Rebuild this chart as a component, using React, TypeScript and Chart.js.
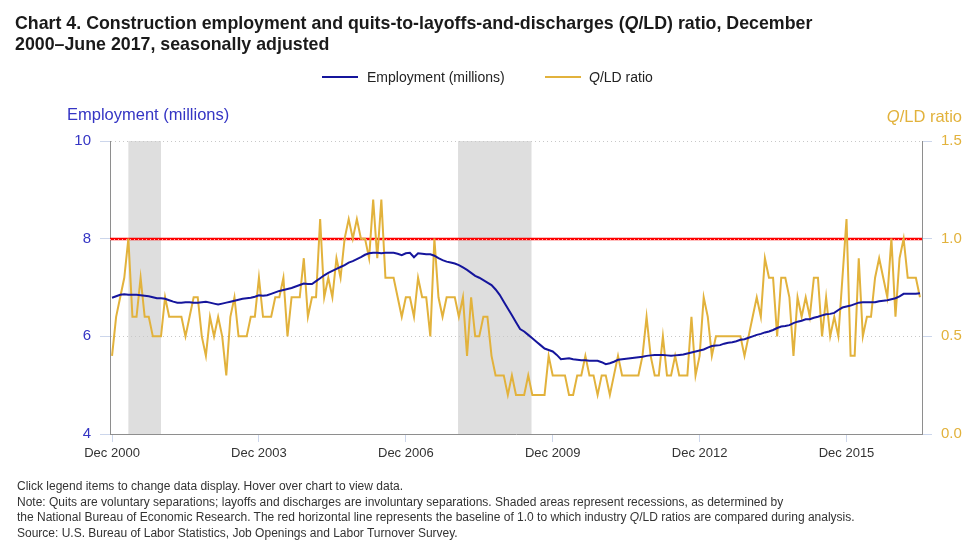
import React, { useEffect, useRef } from 'react';
import { Chart, registerables } from 'chart.js';

Chart.register(...registerables);

const FONT = '"Liberation Sans", Arial, sans-serif';

// Monthly categories, Dec 2000 – Jun 2017
const monthNames = ['Jan', 'Feb', 'Mar', 'Apr', 'May', 'Jun', 'Jul', 'Aug', 'Sep', 'Oct', 'Nov', 'Dec'];
const categories: string[] = [];
for (let i = 0; i < 199; i++) {
  const k = 11 + i;
  categories.push(`${monthNames[k % 12]} ${2000 + Math.floor(k / 12)}`);
}

// Labeled x ticks (category indexes)
const xTickIndex = [0, 36, 72, 108, 144, 180];
const empTicks = [4, 6, 8, 10];
const ratioTicks = [0, 0.5, 1.0, 1.5];

// Construction employment (millions), seasonally adjusted
const employment = [
  6.79, 6.82, 6.85, 6.86, 6.85, 6.85, 6.85, 6.84, 6.83, 6.82, 6.80, 6.78,
  6.78, 6.77, 6.74, 6.71, 6.69, 6.69, 6.70, 6.70, 6.69, 6.69, 6.70, 6.71,
  6.69, 6.67, 6.65, 6.67, 6.69, 6.71, 6.73, 6.75, 6.77, 6.78, 6.79, 6.81,
  6.84, 6.83, 6.84, 6.87, 6.90, 6.93, 6.95, 6.97, 6.99, 7.02, 7.05, 7.08,
  7.07, 7.07, 7.13, 7.19, 7.25, 7.30, 7.34, 7.38, 7.42, 7.46, 7.51, 7.54,
  7.58, 7.62, 7.67, 7.70, 7.71, 7.71, 7.70, 7.71, 7.71, 7.71, 7.69, 7.66,
  7.70, 7.71, 7.62, 7.70, 7.69, 7.68, 7.68, 7.65, 7.60, 7.56, 7.53, 7.51,
  7.49, 7.46, 7.41, 7.36, 7.30, 7.24, 7.20, 7.15, 7.10, 7.05, 6.96, 6.85,
  6.71, 6.57, 6.43, 6.29, 6.15, 6.10, 6.03, 5.96, 5.89, 5.82, 5.75, 5.72,
  5.69, 5.62, 5.53, 5.54, 5.55, 5.53, 5.52, 5.51, 5.51, 5.50, 5.50, 5.50,
  5.47, 5.43, 5.45, 5.48, 5.52, 5.53, 5.54, 5.55, 5.56, 5.57, 5.58, 5.60,
  5.61, 5.62, 5.62, 5.62, 5.61, 5.60, 5.61, 5.62, 5.63, 5.65, 5.67, 5.69,
  5.71, 5.73, 5.77, 5.80, 5.81, 5.82, 5.85, 5.87, 5.88, 5.90, 5.93, 5.94,
  5.97, 6.00, 6.03, 6.05, 6.08, 6.10, 6.13, 6.17, 6.20, 6.21, 6.23, 6.27,
  6.30, 6.32, 6.35, 6.35, 6.38, 6.40, 6.43, 6.45, 6.46, 6.48, 6.54, 6.59,
  6.61, 6.63, 6.66, 6.69, 6.70, 6.70, 6.70, 6.70, 6.72, 6.73, 6.74, 6.76,
  6.78, 6.82, 6.87, 6.87, 6.87, 6.87, 6.88,
];

// Quits-to-layoffs-and-discharges ratio
const qldRatio = [
  0.4, 0.6, 0.7, 0.8, 1.0, 0.6, 0.6, 0.8, 0.6, 0.6, 0.5, 0.5,
  0.5, 0.7, 0.6, 0.6, 0.6, 0.6, 0.5, 0.6, 0.7, 0.7, 0.5, 0.4,
  0.6, 0.5, 0.6, 0.5, 0.3, 0.6, 0.7, 0.5, 0.5, 0.5, 0.6, 0.6,
  0.8, 0.6, 0.6, 0.6, 0.7, 0.7, 0.8, 0.5, 0.7, 0.7, 0.7, 0.9,
  0.6, 0.7, 0.7, 1.1, 0.7, 0.8, 0.7, 0.9, 0.8, 1.0, 1.1, 1.0,
  1.1, 1.0, 1.0, 0.9, 1.2, 0.9, 1.2, 0.8, 0.8, 0.8, 0.7, 0.6,
  0.7, 0.7, 0.6, 0.8, 0.7, 0.7, 0.5, 1.0, 0.7, 0.6, 0.7, 0.7,
  0.7, 0.6, 0.7, 0.4, 0.7, 0.5, 0.5, 0.6, 0.6, 0.4, 0.3, 0.3,
  0.3, 0.2, 0.3, 0.2, 0.2, 0.2, 0.3, 0.2, 0.2, 0.2, 0.2, 0.4,
  0.3, 0.3, 0.3, 0.3, 0.2, 0.2, 0.3, 0.3, 0.4, 0.3, 0.3, 0.2,
  0.3, 0.3, 0.2, 0.3, 0.4, 0.3, 0.3, 0.3, 0.3, 0.3, 0.4, 0.6,
  0.4, 0.3, 0.3, 0.5, 0.3, 0.3, 0.4, 0.3, 0.3, 0.3, 0.6, 0.3,
  0.4, 0.7, 0.6, 0.4, 0.5, 0.5, 0.5, 0.5, 0.5, 0.5, 0.5, 0.4,
  0.5, 0.6, 0.7, 0.6, 0.9, 0.8, 0.8, 0.5, 0.8, 0.8, 0.7, 0.4,
  0.7, 0.6, 0.7, 0.6, 0.8, 0.8, 0.5, 0.7, 0.5, 0.6, 0.5, 0.8,
  1.1, 0.4, 0.4, 0.9, 0.5, 0.6, 0.6, 0.8, 0.9, 0.8, 0.7, 1.0,
  0.6, 0.9, 1.0, 0.8, 0.8, 0.8, 0.7,
];

// Recessions (in month-index units on the x axis)
const recessionStart = [4.0, 84.8];
const recessionEnd = [12.0, 102.8];
const baselineRatio = 1.0;

const EMP_COLOR = '#15159c';
const RATIO_COLOR = '#e2b23c';
const EMP_AXIS_COLOR = '#3535c4';
const AXIS_LINE = '#8e8e8e';
const TICK_COLOR = '#ccd6eb';

const recessionPlugin = {
  id: 'recessions',
  beforeDraw(chart: any) {
    const { ctx, chartArea, scales } = chart;
    const x = scales.x;
    ctx.save();
    ctx.fillStyle = '#dedede';
    recessionStart.forEach((s, i) => {
      const x0 = x.getPixelForValue(s);
      const x1 = x.getPixelForValue(recessionEnd[i]);
      ctx.fillRect(x0, chartArea.top, x1 - x0, chartArea.bottom - chartArea.top);
    });
    ctx.restore();
  },
};

const baselinePlugin = {
  id: 'baseline',
  beforeDatasetsDraw(chart: any) {
    const { ctx, chartArea, scales } = chart;
    const y = Math.round(scales.yRatio.getPixelForValue(baselineRatio));
    ctx.save();
    ctx.strokeStyle = '#ff0000';
    ctx.lineWidth = 2.5;
    ctx.beginPath();
    ctx.moveTo(chartArea.left, y);
    ctx.lineTo(chartArea.right, y);
    ctx.stroke();
    ctx.strokeStyle = 'rgba(255,190,190,0.9)';
    ctx.lineWidth = 1;
    ctx.setLineDash([1, 3]);
    ctx.beginPath();
    ctx.moveTo(chartArea.left, y + 0.5);
    ctx.lineTo(chartArea.right, y + 0.5);
    ctx.stroke();
    ctx.restore();
  },
};

function ChartCanvas() {
  const ref = useRef<HTMLCanvasElement | null>(null);
  useEffect(() => {
    if (!ref.current) return;
    const chart = new Chart(ref.current, {
      type: 'line',
      data: {
        datasets: [
          {
            label: 'Employment (millions)',
            data: employment.map((v, i) => ({ x: i, y: v })),
            yAxisID: 'yEmp',
            borderColor: EMP_COLOR,
            backgroundColor: EMP_COLOR,
            borderWidth: 2,
            pointRadius: 0,
            tension: 0,
          },
          {
            label: 'Q/LD ratio',
            data: qldRatio.map((v, i) => ({ x: i, y: v })),
            yAxisID: 'yRatio',
            borderColor: RATIO_COLOR,
            backgroundColor: RATIO_COLOR,
            borderWidth: 2,
            pointRadius: 0,
            tension: 0,
          },
        ],
      },
      options: {
        animation: false,
        responsive: false,
        maintainAspectRatio: false,
        layout: { padding: { top: 141, left: 0, right: 0, bottom: 0 } },
        plugins: { legend: { display: false }, tooltip: { enabled: false }, title: { display: false } },
        scales: {
          x: {
            type: 'linear',
            min: -0.5,
            max: 198.5,
            afterBuildTicks: (s: any) => {
              s.ticks = xTickIndex.map((v) => ({ value: v }));
            },
            afterFit: (s: any) => {
              s.height = 110;
            },
            ticks: {
              autoSkip: false,
              maxRotation: 0,
              padding: 4,
              color: '#333333',
              font: { family: FONT, size: 13 },
              callback: (v: any) => categories[v as number],
            },
            grid: {
              drawOnChartArea: false,
              drawTicks: true,
              tickLength: 8,
              tickColor: TICK_COLOR,
              color: TICK_COLOR,
            },
            border: { display: true, color: AXIS_LINE, width: 1 },
          },
          yEmp: {
            type: 'linear',
            position: 'left',
            min: 4,
            max: 10,
            afterBuildTicks: (s: any) => {
              s.ticks = empTicks.map((v) => ({ value: v }));
            },
            afterFit: (s: any) => {
              s.width = 110;
            },
            ticks: {
              padding: 9,
              color: EMP_AXIS_COLOR,
              font: { family: FONT, size: 15 },
            },
            grid: {
              color: '#c8c8c8',
              lineWidth: 1,
              tickLength: 10,
              tickColor: TICK_COLOR,
              tickBorderDash: [],
            },
            border: { display: true, color: AXIS_LINE, width: 1, dash: [1, 3] },
          },
          yRatio: {
            type: 'linear',
            position: 'right',
            min: 0,
            max: 1.5,
            afterBuildTicks: (s: any) => {
              s.ticks = ratioTicks.map((v) => ({ value: v }));
            },
            afterFit: (s: any) => {
              s.width = 58;
            },
            ticks: {
              padding: 9,
              color: RATIO_COLOR,
              font: { family: FONT, size: 15 },
              callback: (v: any) => Number(v).toFixed(1),
            },
            grid: {
              drawOnChartArea: false,
              tickLength: 10,
              tickColor: TICK_COLOR,
            },
            border: { display: true, color: AXIS_LINE, width: 1 },
          },
        },
      },
      plugins: [recessionPlugin, baselinePlugin],
    } as any);
    return () => chart.destroy();
  }, []);
  return <canvas ref={ref} width={980} height={544} style={{ display: 'block', position: 'absolute', left: 0, top: 0 }} />;
}

const abs = (s: React.CSSProperties): React.CSSProperties => ({ position: 'absolute', whiteSpace: 'nowrap', fontFamily: FONT, ...s });

export default function App() {
  return (
    <div style={{ position: 'absolute', left: 0, top: 0, width: 980, height: 544, background: '#ffffff', overflow: 'hidden' }}>
      <ChartCanvas />
      <div style={abs({ left: 15, top: 13, fontSize: 17.8, fontWeight: 'bold', lineHeight: '21px', color: '#1a1a1a' })}>
        Chart 4. Construction employment and quits-to-layoffs-and-discharges (<i>Q</i>/LD) ratio, December
        <br />
        2000–June 2017, seasonally adjusted
      </div>
      {/* legend */}
      <div style={abs({ left: 322, top: 76, width: 36, height: 2, background: EMP_COLOR })} />
      <div style={abs({ left: 367, top: 68, fontSize: 14, lineHeight: '18px', color: '#222' })}>Employment (millions)</div>
      <div style={abs({ left: 545, top: 76, width: 36, height: 2, background: RATIO_COLOR })} />
      <div style={abs({ left: 589, top: 68, fontSize: 14, lineHeight: '18px', color: '#222' })}>
        <i>Q</i>/LD ratio
      </div>
      {/* axis titles */}
      <div style={abs({ left: 67, top: 104, fontSize: 16.5, lineHeight: '20px', color: EMP_AXIS_COLOR })}>Employment (millions)</div>
      <div style={abs({ right: 980 - 962, top: 106, fontSize: 16.5, lineHeight: '20px', color: RATIO_COLOR })}>
        <i>Q</i>/LD ratio
      </div>
      {/* footer */}
      <div style={abs({ left: 17, top: 479, fontSize: 12, lineHeight: '15.5px', color: '#333' })}>
        Click legend items to change data display. Hover over chart to view data.
        <br />
        Note: Quits are voluntary separations; layoffs and discharges are involuntary separations. Shaded areas represent recessions, as determined by
        <br />
        the National Bureau of Economic Research. The red horizontal line represents the baseline of 1.0 to which industry <i>Q</i>/LD ratios are compared during analysis.
        <br />
        Source: U.S. Bureau of Labor Statistics, Job Openings and Labor Turnover Survey.
      </div>
    </div>
  );
}
